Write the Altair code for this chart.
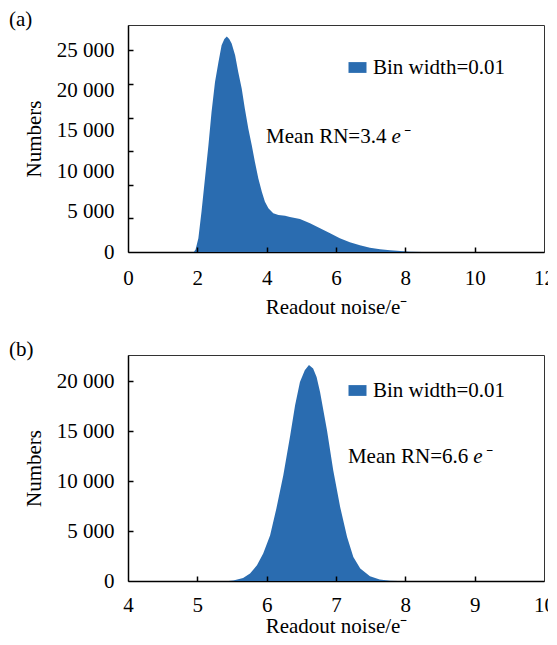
import altair as alt
import pandas as pd

BLUE = "#2a6cb0"
FONT = "Liberation Serif"
FS = 21

# Panel (a): histogram outline (bin width 0.01)
x_a = [1.90, 1.95, 2.03, 2.12, 2.22, 2.32, 2.41, 2.51, 2.61, 2.70, 2.78, 2.85,
       2.92, 2.99, 3.09, 3.18, 3.28, 3.37, 3.47, 3.57, 3.66, 3.76, 3.86, 3.95,
       4.05, 4.19, 4.34, 4.53, 4.67, 4.96, 5.25, 5.54, 5.83, 6.11, 6.40, 6.69,
       6.98, 7.27, 7.56, 7.85, 8.13, 8.50]
n_a = [0, 300, 1700, 4990, 9120, 13240, 17360, 21080, 23550, 25620, 26400, 26700,
       26400, 25830, 24380, 22310, 20260, 17780, 15310, 13240, 11180, 9120, 7460, 6230,
       5410, 4790, 4600, 4500, 4350, 4100, 3550, 2930, 2310, 1690, 1200, 830,
       540, 330, 210, 120, 40, 0]

# Panel (b)
x_b = [5.45, 5.52, 5.66, 5.76, 5.86, 5.95, 6.05, 6.14, 6.24, 6.34, 6.41, 6.48,
       6.55, 6.61, 6.67, 6.72, 6.77, 6.87, 6.96, 7.06, 7.16, 7.25, 7.35, 7.49,
       7.63, 7.78, 7.90]
n_b = [0, 50, 300, 740, 1570, 2740, 4570, 7240, 10570, 14570, 17570, 19900,
       21070, 21600, 21240, 20400, 18900, 15070, 11070, 7400, 4400, 2400, 1240, 470,
       140, 30, 0]

legend_label = "Bin width=0.01"

xticks_a = [0, 2, 4, 6, 8, 10, 12]
xinner_a = [2, 4, 6, 8, 10]
ylabels_a = [0, 5000, 10000, 15000, 20000, 25000]
yinner_a = [25000 * k / 6 for k in range(1, 7)]

xticks_b = [4, 5, 6, 7, 8, 9, 10]
xinner_b = [5, 6, 7, 8, 9]
ylabels_b = [0, 5000, 10000, 15000, 20000]
yinner_b = [5000, 10000, 15000, 20000]

W = 416
LABEL_EXPR = "replace(format(datum.value, ','), ',', ' ')"


def panel(xs, ns, xdom, ydom, h, xticks, xinner, ylabels, yinner,
          letter, mean_txt, mean_x, mean_y, leg_y, label_pad, title_pad):
    df = pd.DataFrame({"x": xs, "n": ns, "s": [legend_label] * len(xs)})
    ann = pd.DataFrame({"x": [mean_x], "y": [mean_y]})

    area = alt.Chart(df).mark_area(interpolate="linear", color=BLUE).encode(
        x=alt.X("x:Q", scale=alt.Scale(domain=xdom, nice=False, zero=False),
                axis=alt.Axis(values=xticks, tickSize=0, grid=False,
                              labelPadding=label_pad,
                              title="Readout noise/e\u207b", titlePadding=title_pad,
                              domainColor="black", domainWidth=1.5,
                              labelFlush=False)),
        y=alt.Y("n:Q", scale=alt.Scale(domain=ydom, nice=False),
                axis=alt.Axis(values=ylabels, tickSize=0, grid=False, labelPadding=14,
                              labelExpr=LABEL_EXPR, title="Numbers", titlePadding=12,
                              domainColor="black", domainWidth=1.5)),
        color=alt.Color("s:N", scale=alt.Scale(range=[BLUE]),
                        legend=alt.Legend(orient="none", legendX=219, legendY=leg_y,
                                          title=None, padding=0,
                                          symbolType="M-1,-0.6H1V0.6H-1Z",
                                          symbolSize=324, symbolStrokeWidth=0,
                                          symbolOpacity=1,
                                          labelFont=FONT, labelFontSize=FS,
                                          labelColor="black", labelOffset=5)),
    )

    mean1 = alt.Chart(ann).mark_text(align="right", baseline="middle", dx=-5,
                                     font=FONT, fontSize=FS, color="black").encode(
        x=alt.X("x:Q", axis=alt.Axis(orient="top", offset=-h, values=xinner,
                                     labels=False, domain=False, grid=False,
                                     tickSize=5, tickColor="black", tickWidth=1.5,
                                     title=None, zindex=1)),
        y=alt.Y("y:Q", axis=alt.Axis(orient="right", offset=-W, values=yinner,
                                     labels=False, domain=False, grid=False,
                                     tickSize=5, tickColor="black", tickWidth=1.5,
                                     title=None, zindex=1)),
        text=alt.value(mean_txt),
    )
    mean2 = alt.Chart(ann).mark_text(align="left", baseline="middle",
                                     font=FONT, fontSize=FS, fontStyle="italic",
                                     color="black").encode(
        x=alt.X("x:Q", axis=None),
        y=alt.Y("y:Q", axis=None),
        text=alt.value("e\u207b"),
    )

    return alt.layer(area, mean1, mean2).resolve_axis(
        x="independent", y="independent"
    ).properties(
        width=W, height=h,
        title=alt.TitleParams(letter, anchor="start", frame="group", dx=-119, dy=4.5,
                              offset=0, font=FONT, fontSize=FS, fontWeight="normal",
                              color="black"),
    )


top = panel(x_a, n_a, [0, 12], [0, 28130], 227, xticks_a, xinner_a, ylabels_a, yinner_a,
            "(a)", "Mean RN=3.4", 7.6, 14300, 32, 15, 8)
bottom = panel(x_b, n_b, [4, 10], [0, 22600], 226, xticks_b, xinner_b, ylabels_b, yinner_b,
               "(b)", "Mean RN=6.6", 8.98, 12370, 25, 13, 0)

chart = alt.vconcat(top, bottom, spacing=20).resolve_scale(
    color="independent"
).resolve_legend(color="independent").properties(
    padding={"left": 0, "top": 0, "right": -7, "bottom": 0}
).configure(font=FONT).configure_view(
    stroke="#333", strokeWidth=1
).configure_axis(
    labelFont=FONT, labelFontSize=FS, labelColor="black",
    titleFont=FONT, titleFontSize=FS, titleFontWeight="normal", titleColor="black",
)

chart.save("out.html", embed_options={"renderer": "svg", "actions": False})
